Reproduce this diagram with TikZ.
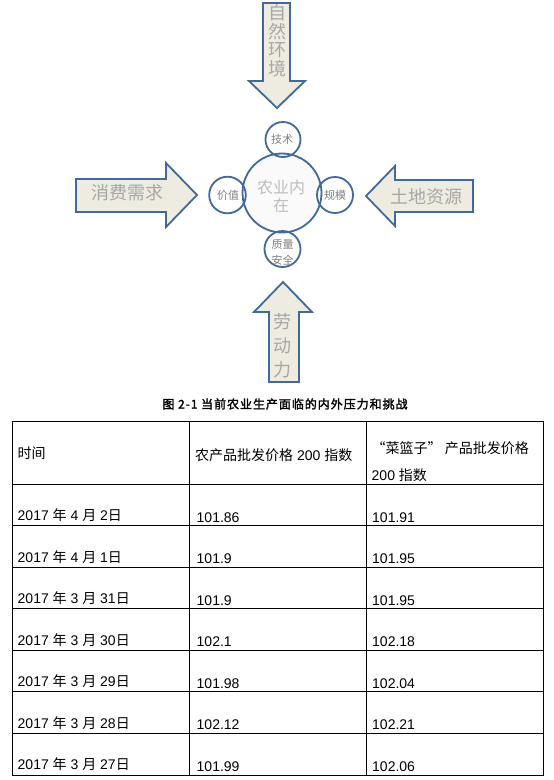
\documentclass[tikz,border=0pt]{standalone}
\usepackage{fontspec}
\setmainfont{Liberation Sans}
\newfontfamily\cjk{Noto Sans CJK SC}
\newfontfamily\cjkb[FakeBold=2,LetterSpace=8]{Noto Sans CJK SC}
\definecolor{arrfill}{HTML}{EEECE1}
\definecolor{edgeblue}{HTML}{41699C}
\definecolor{arrtxt}{HTML}{A6A6A6}
\definecolor{maintxt}{HTML}{BDBDBD}
\definecolor{smalltxt}{HTML}{808080}
\definecolor{mainfill}{HTML}{FAFAFA}
\newcommand\mydate[2]{2017 {\cjk 年} #1 {\cjk 月} #2{\cjk 日}}
\tikzset{
  bigarrow/.style={draw=edgeblue, fill=arrfill, line width=1.8pt, line join=miter},
  ring/.style={draw=edgeblue, line width=1.8pt},
  arrlabel/.style={inner sep=0, text=arrtxt, font=\cjk\fontsize{18}{18}\selectfont},
  mainlabel/.style={inner sep=0, text=maintxt, font=\cjk\fontsize{16}{16}\selectfont},
  smalllabel/.style={inner sep=0, text=smalltxt, font=\cjk\fontsize{11}{11}\selectfont},
  cell/.style={inner sep=0, anchor=base west, text=black, font=\fontsize{14}{16}\selectfont},
  grid/.style={draw=black, line width=1pt},
}
\begin{document}
\begin{tikzpicture}[x=1pt,y=-1pt]
\useasboundingbox (0,0) rectangle (554,780);
\fill[white] (0,0) rectangle (554,780);

% ---------- arrows ----------
\draw[bigarrow] (263,3) -- (290,3) -- (290,81) -- (305,81) -- (277,108) -- (249,81) -- (263,81) -- cycle;
\draw[bigarrow] (76,179) -- (166,179) -- (166,163) -- (197,195) -- (166,227) -- (166,212) -- (76,212) -- cycle;
\draw[bigarrow] (473,180) -- (395,180) -- (395,166) -- (366,196) -- (395,226) -- (395,212) -- (473,212) -- cycle;
\draw[bigarrow] (283,282) -- (312,312) -- (299,312) -- (299,382) -- (269,382) -- (269,312) -- (254,312) -- cycle;

% arrow texts
\node[arrlabel] (top1) at (277,13) {自};
\node[arrlabel] (top2) at (277,31.5) {然};
\node[arrlabel] (top3) at (277,50) {环};
\node[arrlabel] (top4) at (277,68.5) {境};
\node[arrlabel] (bot1) at (282,321.5) {劳};
\node[arrlabel] (bot2) at (282,345.5) {动};
\node[arrlabel] (bot3) at (282,370) {力};
\node[arrlabel] (left) at (127.5,192.5) {消费需求};
\node[arrlabel] (right) at (426.5,196.5) {土地资源};

% ---------- circles ----------
\fill[mainfill] (282,193) circle[radius=39.5];
\draw[ring] (282,193) circle[radius=39.5];
\draw[ring] (283,139.5) circle[radius=17.5];
\draw[ring] (227.5,195) circle[radius=18.3];
\draw[ring] (335,195) circle[radius=18];
\draw[ring] (282.5,249) circle[radius=18];

\node[mainlabel] (core1) at (281,187) {农业内};
\node[mainlabel] (core2) at (281,205) {在};
\node[smalllabel] (tech) at (282,139.5) {技术};
\node[smalllabel] (value) at (228,195) {价值};
\node[smalllabel] (scale) at (335,195) {规模};
\node[smalllabel] (qual1) at (282.5,244) {质量};
\node[smalllabel] (qual2) at (282.5,260.5) {安全};

% ---------- caption ----------
\node[inner sep=0, font=\cjkb\fontsize{12}{12}\selectfont] (caption) at (285,404) {图 2-1 当前农业生产面临的内外压力和挑战};

% ---------- table ----------
\draw[grid] (12.5,421) rectangle (543.5,775);
\draw[grid] (189.5,421) -- (189.5,775);
\draw[grid] (366.5,421) -- (366.5,775);
\draw[grid] (12.5,484) -- (543.5,484);
\foreach \k in {1,...,6} {
  \draw[grid] (12.5,{484+41.57*\k}) -- (543.5,{484+41.57*\k});
}

\node[cell] (h1) at (17.5,458.5) {\cjk 时间};
\node[cell] (h2) at (195,460) {{\cjk 农产品批发价格} 200 {\cjk 指数}};
\node[cell] (h3a) at (371.5,453.5) {\cjk “菜篮子” 产品批发价格};
\node[cell] (h3b) at (371.5,480.5) {200 {\cjk 指数}};

\foreach \k/\m/\d/\va/\vb in {1/4/2/101.86/101.91, 2/4/1/101.9/101.95, 3/3/31/101.9/101.95, 4/3/30/102.1/102.18, 5/3/29/101.98/102.04, 6/3/28/102.12/102.21, 7/3/27/101.99/102.06} {
  \node[cell] (date\k) at (17.5,{484+41.57*\k-5}) {\mydate{\m}{\d}};
  \node[cell] (va\k) at (196.5,{484+41.57*\k-3.5}) {\va};
  \node[cell] (vb\k) at (372,{484+41.57*\k-3.5}) {\vb};
}
\end{tikzpicture}
\end{document}
